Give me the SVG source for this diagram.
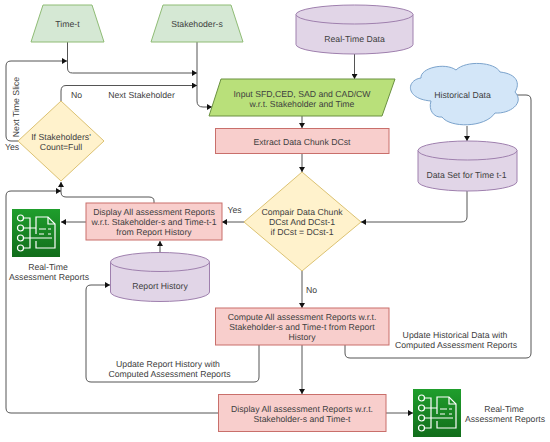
<svg xmlns="http://www.w3.org/2000/svg" width="550" height="442" viewBox="0 0 550 442">
<style>
text{font-family:"Liberation Sans",Arial,sans-serif;font-size:8.7px;fill:#404040;text-anchor:middle;text-rendering:geometricPrecision}
.g{fill:#d5e8d4;stroke:#8fbc75}
.p{fill:#e1d5e7;stroke:#9f80ae}
.r{fill:#f8cecc;stroke:#c96f6b}
.y{fill:#fff2cc;stroke:#dcc272}
.c{fill:none;stroke:#555;stroke-width:1;marker-end:url(#a)}
.i{fill:none;stroke:#fff;stroke-width:1.2}
</style>
<defs>
<marker id="a" markerUnits="userSpaceOnUse" markerWidth="6" markerHeight="6" refX="5" refY="3" orient="auto"><path d="M0 0L5 3L0 6z" fill="#111"/></marker>
<linearGradient id="ig" x1="0" y1="1" x2="0" y2="0"><stop offset="0" stop-color="#116d1b"/><stop offset="1" stop-color="#1f9e2c"/></linearGradient>
<g id="icon">
<rect width="48" height="48" fill="url(#ig)"/>
<circle cx="8.500" cy="9" r="3" class="i"/><circle cx="8.500" cy="19" r="3" class="i"/><circle cx="8.500" cy="29" r="3" class="i"/><circle cx="8.500" cy="39" r="3" class="i"/>
<path class="i" d="M11.500 9H18V39H11.500M11.500 19H24M11.500 29H40M24 25V8H36L43 15V39H24V32"/>
<path class="i" d="M36 8V15H43M27 20H34M27 25H32M36 25H39M36 20H39"/>
</g>
</defs>
<g id="connectors">
<path class="c" d="M67.500 42V68Q67.500 73 72.500 73H197"/>
<path class="c" d="M197 42V101Q197 107 203 107H212"/>
<path class="c" d="M61 101V91Q61 85.500 66 85.500H197"/>
<path class="c" d="M18 141H11Q6 141 6 136V66Q6 61 11 61H67"/>
<path class="c" d="M354.500 54V79"/>
<path class="c" d="M302 116V128"/>
<path class="c" d="M302 154V172"/>
<path class="c" d="M467 126V141"/>
<path class="c" d="M467 191V217Q467 222 461 222H361"/>
<path class="c" d="M244 222H222"/>
<path class="c" d="M86 222H61"/>
<path class="c" d="M160 252V241"/>
<path class="c" d="M154 203V201Q154 197 149 197H66Q61 197 61 192V182"/>
<path class="c" d="M302 271V308"/>
<path class="c" d="M302 345V394"/>
<path class="c" d="M386 413H413"/>
<path class="c" d="M259 345V377Q259 382 254 382H91Q86 382 86 377V290Q86 285 91 285H110"/>
<path class="c" d="M345 345V353Q345 358 350 358H526Q531 358 531 353V100Q531 95 526 95H510"/>
<path class="c" d="M218 413H11Q6 413 6 408V196Q6 191 11 191H61"/>
</g>
<g id="time-t"><path class="g" d="M43 5H92L104 42H31z"/><text x="67.500" y="27">Time-t</text></g>
<g id="stakeholder-s"><path class="g" d="M163 5H231L243 42H151z"/><text x="197" y="27">Stakehoder-s</text></g>
<g id="real-time-data"><path class="p" d="M296 14.500A58.500 9.500 0 0 1 413 14.500V44.500A58.500 9.500 0 0 1 296 44.500z"/><path class="p" d="M296 14.500A58.500 9.500 0 0 0 413 14.500"/><text x="354.500" y="41.500">Real-Time Data</text></g>
<g id="input"><path fill="#b9e07a" stroke="#6a9140" d="M221 79H395L382 116H209z"/><text x="302" y="96.500">Input SFD,CED, SAD and CAD/CW</text><text x="302" y="106.500">w.r.t. Stakeholder and Time</text></g>
<g id="historical-data"><path fill="#d3e6f8" stroke="#7ba3cc" d="M431 101C405 99 406 80 421 78C420 68 445 62 456 70C466 60 495 62 500 72C518 74 520 84 515 92C525 103 510 114 495 113C485 128 450 128 442 117C434 118 428 110 431 101z"/><text x="462.500" y="98">Historical Data</text></g>
<g id="data-set"><path class="p" d="M418 150.500A49.500 9.500 0 0 1 517 150.500V181.500A49.500 9.500 0 0 1 418 181.500z"/><path class="p" d="M418 150.500A49.500 9.500 0 0 0 517 150.500"/><text x="466.500" y="178">Data Set for Time t-1</text></g>
<g id="extract"><rect class="r" x="215.500" y="128.500" width="173.500" height="25"/><text x="302" y="145">Extract Data Chunk DCst</text></g>
<g id="if-stakeholders"><path class="y" d="M61 101L104 141L61 181L18 141z"/><text x="61" y="140">If Stakeholders'</text><text x="61" y="150">Count=Full</text></g>
<g id="compare"><path class="y" d="M302 172L361 222L302 271L244 222z"/><text x="302" y="215">Compair Data Chunk</text><text x="302" y="225">DCst And DCst-1</text><text x="302" y="235">if DCst = DCst-1</text></g>
<g id="display-history"><rect class="r" x="86" y="203" width="136" height="37"/><text x="154" y="215">Display All assessment Reports</text><text x="154" y="225">w.r.t. Stakeholder-s and Time-t-1</text><text x="154" y="235">from Report History</text></g>
<g id="report-icon-1"><use href="#icon" x="12" y="209"/><text x="48" y="269.500">Real-Time</text><text x="49" y="279.500">Assessment Reports</text></g>
<g id="report-history"><path class="p" d="M110.500 262A49.500 9.500 0 0 1 209.500 262V292A49.500 9.500 0 0 1 110.500 292z"/><path class="p" d="M110.500 262A49.500 9.500 0 0 0 209.500 262"/><text x="160" y="289">Report History</text></g>
<g id="compute"><rect class="r" x="215.500" y="308" width="173.500" height="37"/><text x="302" y="320">Compute All assessment Reports w.r.t.</text><text x="302" y="330">Stakeholder-s and Time-t from Report</text><text x="302" y="340">History</text></g>
<g id="display-final"><rect class="r" x="218.500" y="394.500" width="167.500" height="37"/><text x="302" y="412">Display All assessment Reports w.r.t.</text><text x="302" y="422">Stakeholder-s and Time-t</text></g>
<g id="report-icon-2"><use href="#icon" x="413" y="389"/><text x="504" y="412">Real-Time</text><text x="505" y="422">Assessment Reports</text></g>
<g id="labels">
<text x="76.500" y="98">No</text>
<text x="141.500" y="98">Next Stakeholder</text>
<text x="12" y="150">Yes</text>
<text x="234.500" y="213">Yes</text>
<text x="311.500" y="293">No</text>
<text transform="translate(18.500 107) rotate(-90)">Next Time Slice</text>
<text x="168" y="367">Update Report History with</text>
<text x="169.500" y="377">Computed Assessment Reports</text>
<text x="455" y="338">Update Historical Data with</text>
<text x="456" y="348">Computed Assessment Reports</text>
</g>
</svg>
